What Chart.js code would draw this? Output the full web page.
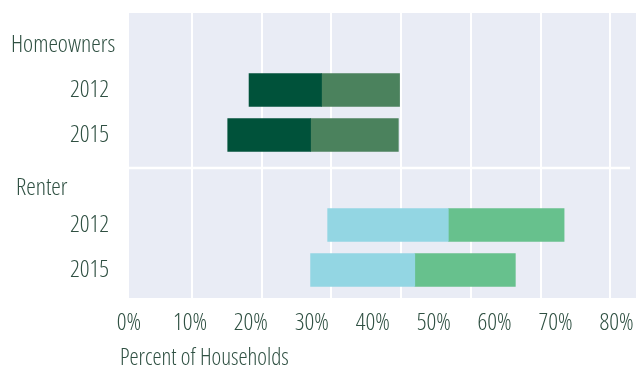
<!DOCTYPE html>
<html>
<head>
<meta charset="utf-8">
<script src="https://cdn.jsdelivr.net/npm/chart.js@4"></script>
<style>
  html, body { margin: 0; padding: 0; background: #ffffff; }
  #wrap { width: 639px; height: 368px; }
</style>
</head>
<body>
<div id="wrap"><canvas id="myChart"></canvas></div>
<script>
// rows of the chart (headers have no bar)
const rows = ['Homeowners', '2012', '2015', 'Renter', '2012', '2015'];
const headers = ['Homeowners', 'Renter'];
const xTitle = 'Percent of Households';

// each bar is two joined pieces: start -> mid, mid -> end (percent of households)
const startPct = [null, 19.7, 16.2, null, 32.6, 29.8];
const midPct   = [null, 31.6, 29.8, null, 52.4, 46.9];
const endPct   = [null, 44.4, 44.2, null, 71.4, 63.4];

const xTicks = [0, 10, 20, 30, 40, 50, 60, 70, 80];
const gridTicks = [10, 20, 30, 40, 50, 60, 70];

const TEXT = '#2f5042';
const PANEL = '#e9ecf5';

const innerColors = ['#00523a', '#00523a', '#00523a', '#93d6e3', '#93d6e3', '#93d6e3'];
const outerColors = ['#4b825d', '#4b825d', '#4b825d', '#67c18d', '#67c18d', '#67c18d'];

// pick the narrowest installed face; the original uses a light condensed sans
const candidates = [
  { family: "'Liberation Sans Narrow', monospace", weight: 'normal' },
  { family: "'Open Sans', monospace", weight: '300 condensed' },
  { family: "'Noto Sans', monospace", weight: '300 condensed' },
  { family: "'DejaVu Sans Condensed', monospace", weight: 'normal' }
];
const probe = document.createElement('canvas').getContext('2d');
let face = candidates[candidates.length - 1], best = Infinity;
candidates.forEach(c => {
  probe.font = c.weight + ' 22px ' + c.family;
  const w = probe.measureText('Homeowners').width;
  if (w < best) { best = w; face = c; }
});
// size so that "Homeowners" is about as wide as in the original
const SIZE = Math.min(24, Math.round(22 * 105 / best * 2) / 2);
const font = (size, extra) => Object.assign({ family: face.family, weight: face.weight, size: size }, extra || {});
const fontString = size => face.weight + ' ' + size + 'px ' + face.family;

// panel background, grid, separator, row headers and axis title
const panelPlugin = {
  id: 'panel',
  beforeDatasetsDraw(chart) {
    const { ctx, chartArea: a, scales } = chart;
    const top = a.top - 9.5, bottom = a.bottom + 5.5;
    ctx.save();
    ctx.fillStyle = PANEL;
    ctx.fillRect(a.left, top, a.right - a.left, bottom - top);
    ctx.strokeStyle = '#ffffff';
    ctx.lineWidth = 2;
    gridTicks.forEach(v => {
      const x = Math.round(scales.x2.getPixelForValue(v));
      ctx.beginPath();
      ctx.moveTo(x, top);
      ctx.lineTo(x, bottom);
      ctx.stroke();
    });
    // separator between the two groups
    const sy = Math.round(scales.y.getPixelForValue(2.74));
    ctx.lineWidth = 2.5;
    ctx.beginPath();
    ctx.moveTo(a.left, sy);
    ctx.lineTo(a.right - 6, sy);
    ctx.stroke();
    ctx.restore();
  },
  afterDraw(chart) {
    const { ctx, scales, chartArea: a } = chart;
    ctx.save();
    ctx.fillStyle = TEXT;
    ctx.font = fontString(SIZE);
    ctx.textAlign = 'left';
    ctx.textBaseline = 'middle';
    rows.forEach((r, i) => {
      if (headers.includes(r) && startPct[i] === null) {
        const dy = i === 0 ? 0 : 8;
        ctx.fillText(r, i === 0 ? 11 : 16, scales.y.getPixelForValue(i) + dy);
      }
    });
    ctx.font = fontString(SIZE - 1);
    ctx.fillText(xTitle, a.left - 9, chart.height - 10);
    ctx.restore();
  }
};

const ctx = document.getElementById('myChart');

new Chart(ctx, {
  type: 'bar',
  data: {
    labels: rows,
    datasets: [{
      data: startPct.map((s, i) => s === null ? null : [s, midPct[i]]),
      backgroundColor: innerColors,
      xAxisID: 'x'
    }, {
      data: midPct.map((m, i) => m === null ? null : [m, endPct[i]]),
      backgroundColor: outerColors,
      xAxisID: 'x'
    }]
  },
  options: {
    indexAxis: 'y',
    responsive: true,
    maintainAspectRatio: false,
    animation: false,
    grouped: false,
    barThickness: 33,
    borderWidth: 0,
    layout: { padding: { top: 22.5, right: 3, left: 0, bottom: 0 } },
    plugins: {
      legend: { display: false },
      tooltip: { enabled: false }
    },
    scales: {
      x: {
        type: 'linear',
        min: 0,
        max: 83.2,
        border: { display: false },
        grid: { display: false, drawTicks: false },
        afterBuildTicks(scale) {
          scale.ticks = xTicks.map(v => ({ value: v }));
        },
        afterFit(scale) {
          scale.height = 75.5;
          scale.paddingLeft = 0;
          scale.paddingRight = 0;
        },
        ticks: {
          padding: 16,
          color: TEXT,
          font: font(SIZE),
          maxRotation: 0,
          callback: v => v + '%'
        }
      },
      x2: {
        type: 'linear',
        display: false,
        min: 0.96,
        max: 73.69
      },
      y: {
        type: 'category',
        border: { display: false },
        grid: { display: false, drawTicks: false },
        afterFit(scale) {
          scale.width = 129;
          scale.paddingTop = 0;
          scale.paddingBottom = 0;
        },
        ticks: {
          padding: 20,
          color: TEXT,
          font: font(SIZE),
          callback(v, i) { return startPct[i] === null ? '' : rows[i]; }
        }
      }
    }
  },
  plugins: [panelPlugin]
});
</script>
</body>
</html>
